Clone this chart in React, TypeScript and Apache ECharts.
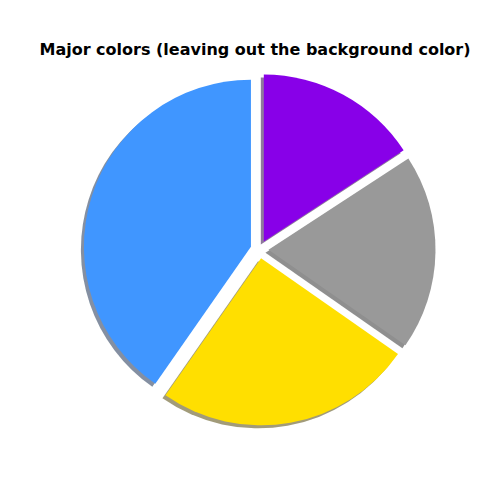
import React, { useEffect, useRef } from "react";
import * as echarts from "echarts";

const categories = ["Blue", "Yellow", "Gray", "Purple"];
const shares = [40.3, 25.0, 18.9, 15.8];
const colors = [[64, 150, 255], [255, 223, 0], [153, 153, 153], [136, 0, 232]];
const titleText = "Major colors (leaving out the background color)";

const rgb = (c: number[]) => `rgb(${c[0]},${c[1]},${c[2]})`;
const shadow = (c: number[]) =>
  `rgba(${Math.round(c[0] * 0.3)},${Math.round(c[1] * 0.3)},${Math.round(c[2] * 0.3)},0.5)`;

export default function App() {
  const ref = useRef<HTMLDivElement>(null);
  useEffect(() => {
    const chart = echarts.init(ref.current!, null, { renderer: "svg" });
    const cx = 259.5;
    const cy = 249.5;
    const r = 167;
    const explode = 9;
    const makeData = (fn: (c: number[]) => string) =>
      categories.map((name, i) => ({
        name,
        value: shares[i],
        selected: true,
        itemStyle: { color: fn(colors[i]) },
        select: { itemStyle: { color: fn(colors[i]) } },
      }));
    const base = {
      type: "pie",
      radius: [0, r],
      startAngle: 90,
      clockwise: false,
      selectedMode: "multiple",
      selectedOffset: explode,
      avoidLabelOverlap: false,
      minAngle: 0,
      label: { show: false },
      labelLine: { show: false },
      emphasis: { disabled: true },
      silent: true,
    };
    chart.setOption({
      animation: false,
      backgroundColor: "#ffffff",
      title: {
        text: titleText,
        left: 250,
        top: 36,
        textAlign: "center",
        textStyle: {
          fontFamily: "DejaVu Sans",
          fontWeight: "bold",
          fontSize: 16,
          color: "#000",
        },
      },
      series: [
        {
          ...base,
          name: "shadow",
          z: 1,
          center: [cx - 3, cy + 3],
          itemStyle: { borderWidth: 0, shadowBlur: 1.5, shadowColor: "rgba(0,0,0,0.1)" },
          data: makeData(shadow),
        },
        {
          ...base,
          name: "colors",
          z: 2,
          center: [cx, cy],
          itemStyle: { borderWidth: 0 },
          data: makeData(rgb),
        },
      ],
    });
    return () => chart.dispose();
  }, []);
  return (
    <div
      ref={ref}
      style={{ position: "absolute", left: 0, top: 0, width: 504, height: 504 }}
    />
  );
}
